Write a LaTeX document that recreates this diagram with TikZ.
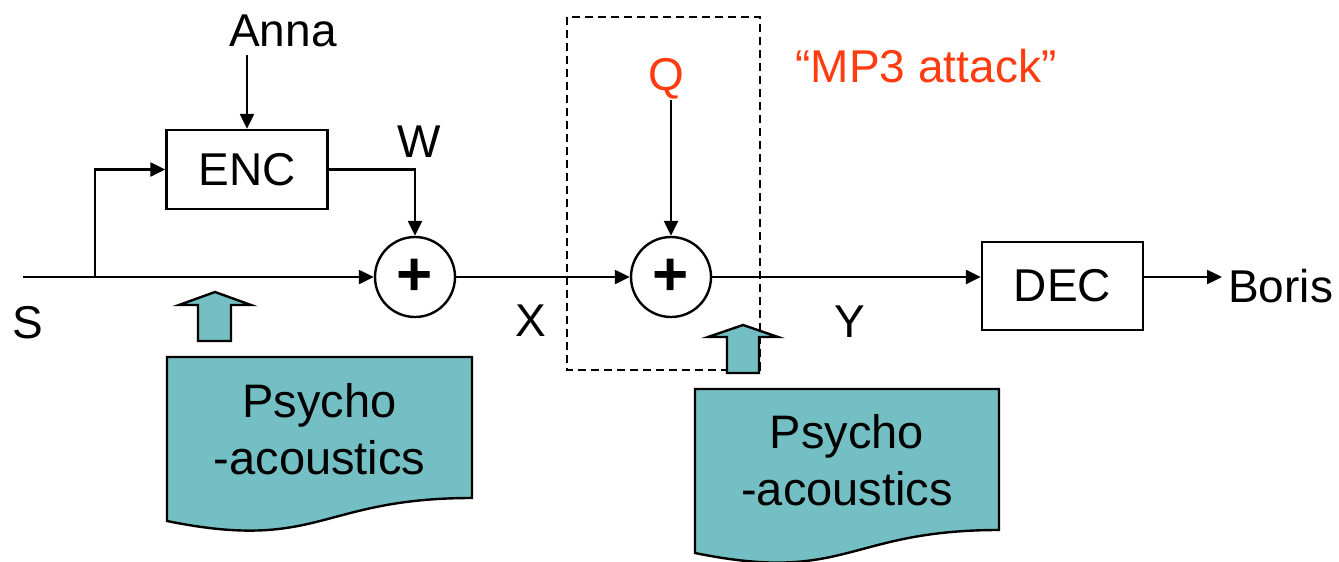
\documentclass[tikz,border=0pt]{standalone}
\usepackage{fontspec}
\setmainfont{Liberation Sans}
\usetikzlibrary{arrows.meta}
\definecolor{psyfill}{RGB}{115,191,196}
\definecolor{attackred}{RGB}{255,59,16}
\tikzset{
  lbl/.style={inner sep=0pt, font=\fontsize{46}{50}\selectfont},
  psytext/.style={inner sep=0pt, align=center, font=\fontsize{47}{57}\selectfont},
  blockbox/.style={draw, line width=2.4pt, inner sep=0pt, font=\fontsize{46}{50}\selectfont},
  adder/.style={draw, circle, line width=2.4pt, minimum size=80pt, inner sep=0pt},
  plussign/.style={inner sep=0pt, font=\fontsize{62}{62}\selectfont\bfseries},
  sig/.style={line width=2.4pt, -{Triangle[length=15pt,width=14pt]}},
  plainsig/.style={line width=2.4pt},
  psyshape/.style={draw, line width=2.4pt, fill=psyfill, line join=miter},
  attackbox/.style={draw, line width=2pt, dash pattern=on 8pt off 5pt}
}
\begin{document}
\begin{tikzpicture}[x=1pt, y=-1pt]
\useasboundingbox (0,0) rectangle (1339,562);

% dashed frame of the attack stage
\draw[attackbox] (567,17) rectangle (760,370);

% blocks and adders
\node[blockbox, minimum width=161pt, minimum height=79pt] (enc) at (247,169.5) {ENC};
\node[blockbox, minimum width=161pt, minimum height=88pt] (dec) at (1062.5,286) {DEC};
\node[adder] (c1) at (415,277) {};
\node[plussign] at (c1) {+};
\node[adder] (c2) at (671,277) {};
\node[plussign] at (c2) {+};

% labels
\node[lbl, anchor=base] (anna) at (283,46) {Anna};
\node[lbl, anchor=base] (w) at (419,157) {W};
\node[lbl, anchor=base] (s) at (28,338) {S};
\node[lbl, anchor=base] (x) at (531,336) {X};
\node[lbl, anchor=base] (y) at (850,337) {Y};
\node[lbl, anchor=base, text=attackred] (q) at (666,90) {Q};
\node[lbl, anchor=base, text=attackred] (mp3) at (926,82) {“MP3 attack”};
\node[lbl, anchor=base west] (boris) at (1228,302) {Boris};

% signal path
\coordinate (sin) at (23,277);
\coordinate (split) at (95,277);
\draw[plainsig] (sin) -- (split);
\draw[sig] (split) -- (c1.west);
\draw[sig] (split) |- (enc.west);
\draw[sig] (enc.north |- 0,55) -- (enc.north);
\draw[sig] (enc.east) -| (c1.north);
\draw[sig] (c1.east) -- (c2.west);
\draw[sig] (c2.north |- 0,100) -- (c2.north);
\draw[sig] (c2.east) -- (c2.east -| dec.west);
\draw[sig] (dec.east |- c2.east) -- (1222,277);

% psycho-acoustic models feeding the embedder and the attack
\draw[psyshape] (198,341) -- (198,305) -- (179,305) -- (215,292) -- (251,305)
  -- (231,305) -- (231,341) -- cycle;
\draw[psyshape] (167,357) -- (472,357) -- (472,498)
  .. controls (319.5,498) and (319.5,552) .. (167,521) -- cycle;
\node[psytext, anchor=base] (psy1) at (319.5,474) {Psycho\\-acoustics};

\draw[psyshape] (727,373) -- (727,337) -- (708,337) -- (743,325) -- (778,337)
  -- (759,337) -- (759,373) -- cycle;
\draw[psyshape] (695,389) -- (999,389) -- (999,530)
  .. controls (847,530) and (847,584) .. (695,553) -- cycle;
\node[psytext, anchor=base] (psy2) at (847,505) {Psycho\\-acoustics};
\end{tikzpicture}
\end{document}
